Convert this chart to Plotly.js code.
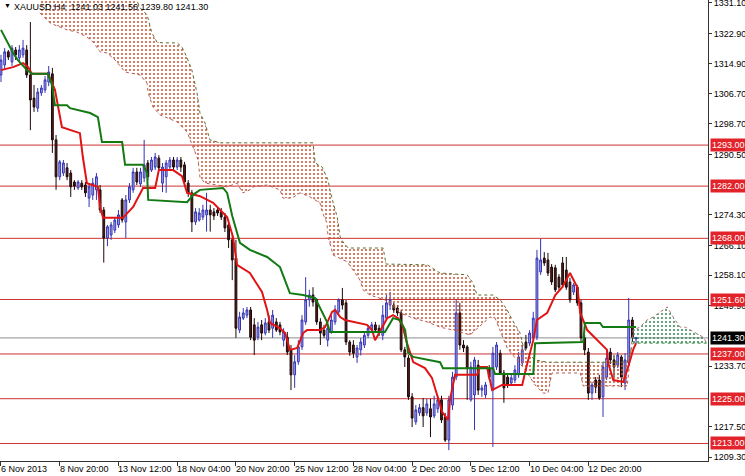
<!DOCTYPE html>
<html>
<head>
<meta charset="utf-8">
<script src="https://cdn.plot.ly/plotly-3.0.1.min.js"></script>
<style>html,body{margin:0;padding:0;background:#fff;}#chart{width:745px;height:476px;}</style>
</head>
<body>
<div id="chart"></div>
<script>
// ---- XAUUSD H4 candles (bar index 0 = 6 Nov 2013) ----
const open = [
1311.8,1314.5,1318.0,1315.3,1318.5,1316.4,1317.2,1318.5,1311.8,1305.6,
1302.9,1307.0,1307.8,1309.9,1312.1,1294.4,1284.5,1285.5,1286.9,1285.5,
1283.1,1281.5,1282.8,1282.3,1278.8,1279.6,1281.0,1281.0,1275.6,1268.1,
1268.9,1270.2,1271.6,1278.3,1272.4,1278.3,1281.0,1285.8,1282.6,1284.2,
1288.2,1286.3,1287.1,1289.5,1282.8,1284.5,1287.1,1289.0,1287.1,1289.0,
1287.7,1282.8,1280.2,1272.4,1272.9,1273.7,1274.3,1275.6,1275.1,1275.6,
1275.1,1273.7,1271.6,1267.6,1262.7,1243.4,1246.6,1247.4,1248.8,1244.8,
1241.5,1244.8,1242.6,1245.6,1243.9,1245.6,1244.8,1240.7,1241.5,1238.1,
1231.4,1234.9,1238.9,1245.6,1251.5,1252.8,1251.5,1245.6,1243.4,1240.7,
1242.9,1245.6,1248.3,1251.5,1250.7,1240.2,1239.4,1236.2,1238.1,1239.4,
1242.0,1243.4,1244.8,1243.9,1242.0,1246.6,1250.1,1250.1,1249.3,1248.0,
1238.1,1235.9,1225.5,1218.8,1221.2,1222.6,1221.2,1222.3,1220.4,1222.3,
1224.7,1220.1,1213.9,1223.3,1230.8,1248.0,1239.4,1238.9,1224.7,1226.0,
1234.0,1227.3,1226.0,1233.2,1227.3,1233.5,1237.2,1231.9,1230.8,1229.2,
1230.0,1231.4,1234.6,1240.2,1239.9,1241.3,1241.5,1259.0,1262.7,1262.2,
1260.3,1260.1,1257.6,1261.4,1259.5,1256.3,1253.6,1254.9,1250.7,1241.3,
1237.5,1226.5,1230.0,1230.0,1225.5,1230.8,1237.5,1235.4,1234.0,1236.2,
1229.2,1234.6,1246.1,1241.03];
const high = [
1317.2,1319.0,1318.5,1319.8,1319.3,1319.8,1321.2,1319.8,1326.0,1309.1,
1308.3,1309.1,1311.5,1314.2,1313.7,1295.7,1289.0,1289.0,1288.2,1286.3,
1283.6,1283.6,1283.6,1283.1,1282.8,1284.2,1285.5,1282.3,1276.4,1271.6,
1272.4,1273.7,1275.6,1278.8,1279.6,1282.8,1286.9,1286.9,1286.9,1294.4,
1289.0,1289.8,1290.9,1290.3,1288.2,1289.0,1289.8,1289.8,1289.8,1289.8,
1288.5,1283.6,1281.0,1276.1,1276.1,1277.0,1280.2,1277.0,1276.1,1276.4,
1276.1,1274.8,1273.0,1268.9,1267.6,1248.3,1249.3,1249.6,1249.6,1246.6,
1245.6,1246.1,1246.6,1247.4,1248.8,1246.6,1245.6,1243.9,1242.9,1239.4,
1236.7,1240.7,1247.4,1257.6,1254.2,1254.9,1251.9,1246.6,1244.8,1244.8,
1247.4,1250.1,1251.9,1254.7,1251.5,1240.7,1240.7,1239.4,1241.3,1242.9,
1244.8,1245.6,1245.6,1244.8,1250.1,1252.8,1253.6,1250.7,1250.1,1248.8,
1238.9,1236.7,1226.5,1223.3,1223.6,1225.2,1225.0,1225.0,1225.8,1225.8,
1225.8,1221.2,1225.8,1232.2,1251.5,1250.7,1240.7,1239.4,1234.9,1236.2,
1235.4,1228.7,1229.5,1234.0,1238.9,1240.2,1238.1,1232.7,1231.9,1231.6,
1234.0,1237.5,1239.4,1242.1,1243.4,1248.3,1264.9,1267.9,1264.3,1264.1,
1261.1,1260.9,1258.4,1263.0,1263.0,1257.4,1256.0,1255.5,1251.5,1242.1,
1238.6,1229.5,1230.8,1231.4,1234.9,1238.1,1238.6,1236.7,1237.5,1236.7,
1237.2,1252.0,1246.9,1241.56];
const low = [
1309.9,1313.1,1315.8,1314.2,1315.8,1315.3,1316.4,1311.0,1297.0,1301.9,
1301.9,1306.2,1307.0,1308.8,1290.9,1281.0,1283.6,1284.7,1283.6,1279.1,
1281.0,1281.0,1281.0,1279.1,1276.4,1278.3,1278.3,1274.8,1261.5,1265.9,
1267.6,1269.4,1270.8,1272.2,1268.1,1277.5,1280.2,1282.3,1281.8,1283.1,
1283.6,1285.8,1286.3,1286.3,1280.4,1280.2,1286.3,1286.3,1286.3,1285.8,
1282.3,1279.1,1269.7,1271.6,1272.5,1272.9,1269.8,1269.8,1272.9,1274.0,
1272.9,1269.7,1265.4,1256.8,1241.3,1242.6,1246.1,1246.6,1240.7,1236.7,
1240.7,1240.7,1242.0,1242.6,1241.3,1242.9,1242.0,1239.0,1236.7,1227.3,
1227.9,1234.1,1238.1,1244.8,1249.7,1249.7,1244.8,1239.4,1241.3,1239.0,
1242.4,1244.8,1247.3,1248.9,1239.4,1236.5,1235.9,1234.6,1236.6,1238.6,
1241.3,1242.6,1242.6,1241.8,1240.7,1246.1,1248.8,1248.0,1247.2,1237.5,
1233.5,1224.7,1217.4,1218.0,1220.4,1217.4,1220.4,1214.7,1219.8,1221.2,
1218.5,1213.4,1211.2,1222.0,1230.0,1238.1,1237.5,1224.7,1224.2,1216.6,
1226.0,1225.5,1225.2,1230.0,1212.1,1232.7,1231.4,1223.9,1227.9,1228.4,
1229.2,1230.6,1233.8,1238.1,1239.1,1240.7,1240.7,1258.2,1260.6,1257.9,
1255.5,1253.6,1254.2,1254.7,1254.2,1250.7,1252.8,1249.9,1240.2,1236.7,
1224.7,1224.7,1226.5,1224.7,1220.1,1230.0,1234.3,1230.8,1233.2,1228.1,
1227.3,1234.1,1240.2,1239.80];
const close = [
1315.8,1318.0,1316.6,1319.0,1317.2,1318.5,1319.0,1311.8,1305.1,1303.2,
1307.2,1308.3,1310.5,1312.6,1294.4,1284.5,1288.5,1288.2,1284.5,1281.8,
1282.0,1283.1,1281.8,1280.2,1281.8,1282.8,1284.5,1275.6,1268.1,1271.1,
1271.6,1272.9,1274.3,1272.9,1278.3,1281.8,1285.8,1283.1,1285.8,1287.7,
1284.5,1289.0,1289.8,1286.9,1287.1,1288.2,1289.0,1287.1,1289.0,1287.1,
1283.1,1280.2,1272.4,1275.1,1274.8,1275.6,1275.6,1274.3,1274.0,1274.8,
1273.7,1270.8,1267.6,1262.2,1243.9,1246.9,1248.0,1248.8,1241.5,1240.7,
1244.2,1242.6,1245.3,1243.4,1247.4,1243.4,1242.9,1242.9,1237.5,1231.4,
1234.9,1238.9,1246.1,1251.5,1252.8,1250.9,1245.6,1242.6,1242.0,1243.9,
1246.1,1248.8,1251.5,1250.1,1240.2,1237.5,1237.2,1238.6,1240.2,1242.0,
1243.9,1244.8,1243.4,1242.9,1247.4,1250.7,1251.5,1248.8,1248.0,1238.1,
1236.2,1225.5,1219.8,1222.0,1222.6,1220.4,1223.6,1220.1,1223.6,1224.7,
1219.3,1213.9,1224.7,1230.8,1248.0,1239.4,1238.6,1233.2,1233.5,1235.4,
1227.3,1227.9,1228.7,1230.8,1237.2,1239.4,1231.9,1227.9,1228.7,1230.6,
1232.7,1236.2,1238.1,1238.6,1242.6,1246.6,1262.7,1262.2,1261.4,1258.7,
1256.3,1254.2,1254.9,1255.5,1254.9,1251.5,1255.5,1250.7,1241.3,1238.1,
1226.5,1228.7,1228.1,1225.2,1233.5,1235.9,1235.4,1233.5,1236.7,1230.8,
1235.4,1246.1,1241.5,1241.30];

// ---- Ichimoku lines (bar index, price) ----
const tenkanBar = [0,3.3,6,7.4,8.4,12.8,14.7,15.5,16.6,21.5,22.3,23.4,26.4,27,27.8,33.2,36,38.7,42,43,46.9,49.3,50.7,54.2,57.8,61.6,63.2,64.3,67.8,71.1,72.5,73.3,76,77.4,78.7,80.7,82.3,83.4,86.9,88.3,89.1,90.2,91,92.4,93.7,99.7,101.1,101.9,102.7,103.8,105.2,106.8,108.2,109.3,110.6,112.3,115.5,117.4,118.8,120.2,121.8,122.3,123.7,129.7,130.5,132.4,133.8,136.5,142,142.8,145,146,148.8,151,152.9,155,157,157.8,159.7,163.2,165.1,165.4,166.8,169.5,170.6,172.2,173];
const tenkanVal = [1313.1,1313.9,1315.0,1313.9,1312.1,1312.1,1307.8,1303.7,1297.8,1296.2,1289.8,1282.8,1281.8,1276.4,1273.5,1273.5,1276.4,1281.5,1281.5,1286.3,1286.3,1284.7,1280.2,1279.3,1277.5,1273.7,1268.4,1260.9,1258.7,1253.6,1248.8,1245.3,1243.9,1242.6,1238.1,1238.6,1242.6,1243.4,1243.4,1244.2,1246.1,1248.3,1248.8,1246.9,1246.1,1244.8,1243.4,1240.7,1242.1,1244.2,1246.6,1247.4,1246.6,1244.8,1239.9,1234.8,1233.2,1230.6,1226.0,1221.4,1219.3,1224.7,1231.4,1231.4,1233.5,1233.5,1227.3,1228.7,1228.7,1232.2,1240.7,1246.1,1248.0,1252.8,1254.9,1258.7,1254.9,1248.0,1243.4,1239.9,1238.1,1234.6,1230.0,1229.5,1232.7,1238.1,1239.9];
const kijunBar = [0,1.1,3.3,4.6,7.1,8.4,12.8,13.9,14.7,18,18.8,24.3,26.4,27.5,33,33.8,38.7,39.8,40.1,50.7,52.5,54.2,60.5,61.6,63,65.1,67.8,72.5,76,78.7,82.3,85.6,88.8,89.6,104.6,106.8,108.7,110.1,110.9,112.3,119.6,120.4,134,134.6,145,145.5,158.6,159.1,163.2,164,173];
const kijunVal = [1323.9,1321.7,1317.7,1315.8,1313.1,1312.1,1312.1,1309.1,1303.7,1303.7,1302.9,1301.6,1300.5,1293.8,1293.8,1287.7,1287.7,1285.5,1278.3,1277.7,1279.8,1281.0,1281.5,1280.2,1274.0,1266.8,1264.9,1263.0,1260.3,1253.3,1252.8,1252.0,1245.6,1242.9,1242.9,1246.6,1246.1,1243.4,1237.3,1236.2,1234.8,1233.2,1233.2,1231.6,1231.6,1239.9,1240.2,1245.3,1245.3,1244.2,1244.2];
const spanBBar = [10.6,30,36,37.9,39.8,41.1,42.5,44.1,48,49.3,50.7,52,53.4,54.2,55.6,56.9,59.7,85,85.6,87.5,89.1,89.6,90.5,91.6,92.4,93.2,94.6,104.1,104.9,116.1,119.6,127,128.6,129.7,134,136,137.9,139.3,141.4,142.3,143.3,145.5,148.8,170.6,171.6,172.2,192.4];
const spanBVal = [1340,1337,1334,1329.8,1327.9,1323.1,1320.6,1320.4,1320.4,1319.3,1316.4,1313.1,1307.0,1301.6,1298.9,1294.4,1293.6,1293.6,1288.2,1287.1,1283.6,1281.0,1277.5,1273.7,1268.4,1267.0,1265.4,1265.4,1261.1,1260.9,1258.7,1258.2,1256.0,1252.8,1252.8,1251.5,1248.8,1246.1,1242.6,1238.9,1237.3,1235.4,1234.8,1234.8,1238.0,1239.9,1239.9];
const spanABar = [10.6,13.4,18,20.7,23.4,25.1,27,28.9,31.1,33.8,37.9,39.8,40.1,41.4,43.3,46.9,48,50.7,52.3,53.7,54.2,55.6,58.9,61.6,64.3,65.9,67.8,68.7,72.5,76,76.8,79.3,81.5,84.2,86.9,87.5,88.8,89.1,90.5,94.3,95.9,97.8,98.6,100.5,104.6,108.7,112.3,116.1,119.6,123.2,127.8,131.3,133.2,134.6,136.5,137.9,140.1,142.8,145.5,147.7,149,150.1,157.8,158.6,170.6,171.6,172.2,174.1,176,177.7,179.6,181.5,183.1,185,186.4,188.6,191.3,192.4];
const spanAVal = [1328.4,1325.7,1323.9,1323.3,1322.0,1320.6,1318.0,1317.7,1315.8,1312.6,1311.8,1309.6,1307.0,1303.2,1301.1,1299.7,1299.2,1296.5,1292.5,1289.0,1284.4,1282.8,1282.3,1281.8,1282.8,1280.2,1281.0,1281.8,1282.3,1281.0,1278.8,1278.8,1280.2,1279.1,1277.5,1275.1,1272.1,1268.4,1263.5,1261.7,1259.5,1256.8,1254.2,1252.8,1251.5,1248.0,1246.6,1245.6,1244.2,1243.4,1242.1,1245.3,1246.9,1246.6,1242.1,1238.6,1235.9,1232.7,1228.7,1226.5,1226.5,1231.9,1231.9,1228.4,1228.4,1238.0,1243.4,1244.2,1246.1,1246.9,1248.3,1249.6,1246.9,1244.2,1244.2,1242.9,1241.5,1239.7];
const kumoTwistBar = 171.6;

// ---- levels & axis labels ----
const levels = [1293.00, 1282.00, 1268.00, 1251.60, 1237.00, 1225.00, 1213.00];
const bidPrice = 1241.30;
const yTickVals = [1331.10,1322.90,1314.90,1306.70,1298.70,1290.50,1274.30,1266.10,1258.10,1249.90,1233.70,1217.50,1209.30];
const tickBars = [0,16,32,48,64,80,96,112,128,144,160];
const tickLabels = ['6 Nov 2013','8 Nov 20:00','13 Nov 12:00','18 Nov 04:00','20 Nov 20:00','25 Nov 12:00','28 Nov 04:00','2 Dec 20:00','5 Dec 12:00','10 Dec 04:00','12 Dec 20:00'];
const titleText = 'XAUUSD,H4  1241.03 1241.56 1239.80 1241.30';

const bars = open.map((_, i) => i);
const FONT = 'Liberation Sans, Arial, sans-serif';

function part(xs, ys, test) {
  const px = [], py = [];
  xs.forEach((x, i) => { if (test(x)) { px.push(x); py.push(ys[i]); } });
  return {x: px, y: py};
}
const bRed = part(spanBBar, spanBVal, x => x <= kumoTwistBar);
const aRed = part(spanABar, spanAVal, x => x <= kumoTwistBar);
const bGrn = part(spanBBar, spanBVal, x => x >= kumoTwistBar);
const aGrn = part(spanABar, spanAVal, x => x >= kumoTwistBar);

const traces = [
  {type:'scatter', mode:'lines', x:bRed.x, y:bRed.y, line:{color:'#56702a', width:1, dash:'dot'}, hoverinfo:'skip'},
  {type:'scatter', mode:'lines', x:aRed.x, y:aRed.y, line:{color:'#b85a50', width:1, dash:'dot'}, fill:'tonexty',
   fillcolor:'rgba(0,0,0,0)', fillpattern:{shape:'.', fgcolor:'#c4532f', bgcolor:'rgba(0,0,0,0)', size:4, solidity:0.2}, hoverinfo:'skip'},
  {type:'scatter', mode:'lines', x:bGrn.x, y:bGrn.y, line:{color:'#3a8a3a', width:1, dash:'dot'}, hoverinfo:'skip'},
  {type:'scatter', mode:'lines', x:aGrn.x, y:aGrn.y, line:{color:'#b07070', width:1, dash:'dot'}, fill:'tonexty',
   fillcolor:'rgba(0,0,0,0)', fillpattern:{shape:'.', fgcolor:'#2e8b57', bgcolor:'rgba(0,0,0,0)', size:4, solidity:0.2}, hoverinfo:'skip'},
  {type:'candlestick', x:bars, open:open, high:high, low:low, close:close,
   increasing:{line:{color:'#3434b4', width:1}, fillcolor:'#a4a4e8'},
   decreasing:{line:{color:'#1a0808', width:1}, fillcolor:'#5a1a1a'},
   whiskerwidth:0, hoverinfo:'skip'},
  {type:'scatter', mode:'lines', x:tenkanBar, y:tenkanVal, line:{color:'#e01414', width:2}, hoverinfo:'skip'},
  {type:'scatter', mode:'lines', x:kijunBar, y:kijunVal, line:{color:'#137a13', width:2}, hoverinfo:'skip'}
];

const shapes = levels.map(v => ({type:'line', xref:'paper', x0:0, x1:1, yref:'y', y0:v, y1:v,
  line:{color:'#cc3333', width:1}, layer:'below'}));
shapes.push({type:'line', xref:'paper', x0:0, x1:1, yref:'y', y0:bidPrice, y1:bidPrice, line:{color:'#8c8c8c', width:1}, layer:'below'});

const annotations = levels.map(v => ({xref:'paper', x:1, xanchor:'left', xshift:2, yref:'y', y:v, yanchor:'middle',
  text:v.toFixed(2), showarrow:false, font:{family:FONT, size:9, color:'#ffffff'}, bgcolor:'#e3232a', borderpad:1, width:33, align:'left'}));
annotations.push({xref:'paper', x:1, xanchor:'left', xshift:2, yref:'y', y:bidPrice, yanchor:'middle',
  text:bidPrice.toFixed(2), showarrow:false, font:{family:FONT, size:9, color:'#ffffff'}, bgcolor:'#000000', borderpad:1, width:33, align:'left'});
tickBars.forEach((b, i) => annotations.push({xref:'x', x:b, yref:'paper', y:0, xanchor:'left', yanchor:'top', xshift:-2, yshift:-1,
  text:tickLabels[i], showarrow:false, font:{family:FONT, size:9, color:'#000'}}));
annotations.push({xref:'paper', yref:'paper', x:0, y:1, xanchor:'left', yanchor:'top', xshift:12, yshift:0,
  text:titleText, showarrow:false, font:{family:FONT, size:9, color:'#000'}});
annotations.push({xref:'paper', yref:'paper', x:0, y:1, xanchor:'left', yanchor:'top', xshift:2, yshift:0,
  text:'\u25BC', showarrow:false, font:{family:FONT, size:7, color:'#000'}});

const layout = {
  width:745, height:476,
  margin:{l:0, r:37, t:0, b:15},
  paper_bgcolor:'#ffffff', plot_bgcolor:'#ffffff',
  showlegend:false,
  xaxis:{range:[-0.27,192.6], showgrid:false, zeroline:false, showline:true, linecolor:'#333', linewidth:1,
    tickmode:'array', tickvals:tickBars, ticktext:tickLabels, showticklabels:false, ticks:'outside', ticklen:4, tickcolor:'#333',
    rangeslider:{visible:false}, fixedrange:true},
  yaxis:{side:'right', range:[1208.3,1331.9], showgrid:false, zeroline:false, showline:true, linecolor:'#333', linewidth:1,
    tickmode:'array', tickvals:yTickVals, ticktext:yTickVals.map(v => v.toFixed(2)), ticks:'outside', ticklen:3, tickcolor:'#333',
    ticklabeloverflow:'allow', tickfont:{family:FONT, size:9, color:'#000'}, fixedrange:true},
  shapes:shapes,
  annotations:annotations
};

Plotly.newPlot('chart', traces, layout, {staticPlot:true, displayModeBar:false});
</script>
</body>
</html>
